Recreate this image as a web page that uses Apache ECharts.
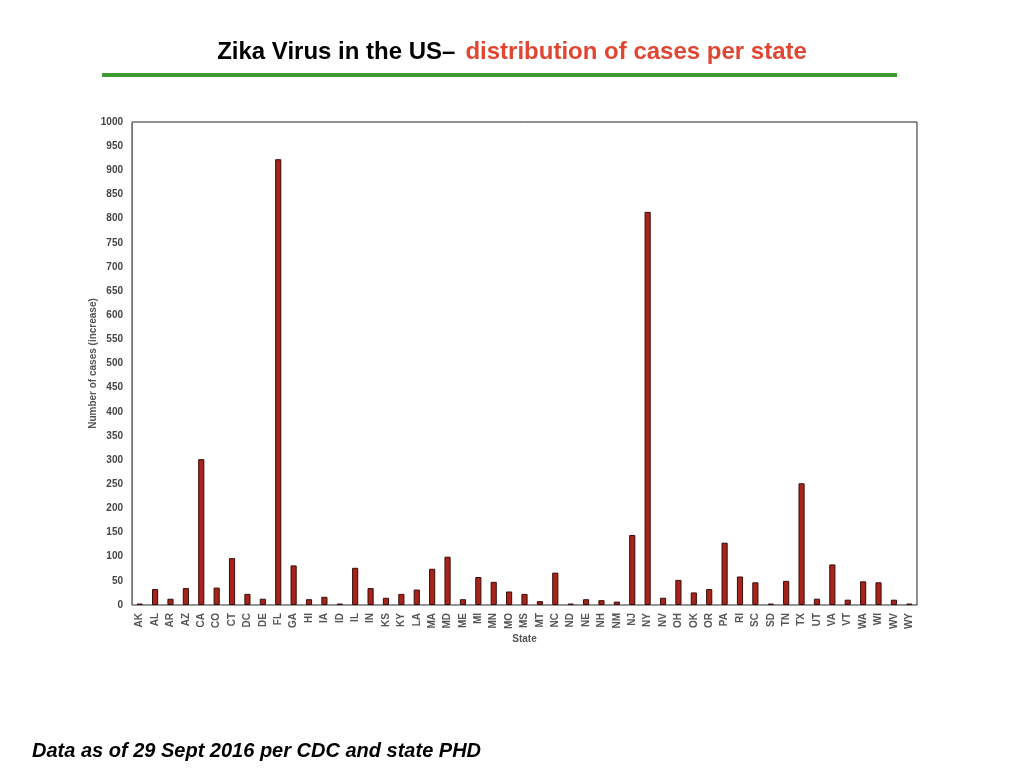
<!DOCTYPE html>
<html lang="en">
<head>
    <meta charset="UTF-8">
    <title>Zika Virus in the US</title>
    <script src="https://cdn.jsdelivr.net/npm/echarts@6/dist/echarts.min.js"></script>
    <style>
        html, body { margin: 0; padding: 0; background: #fff; }
        #chart { width: 1024px; height: 768px; }
    </style>
</head>
<body>
<div id="chart"></div>
<script>
    var states = ['AK','AL','AR','AZ','CA','CO','CT','DC','DE','FL','GA','HI','IA','ID','IL','IN','KS','KY','LA','MA',
        'MD','ME','MI','MN','MO','MS','MT','NC','ND','NE','NH','NM','NJ','NY','NV','OH','OK','OR','PA','RI',
        'SC','SD','TN','TX','UT','VA','VT','WA','WI','WV','WY'];
    var cases = [3,33,13,35,302,36,97,23,13,923,82,12,17,3,77,35,15,23,32,75,
        100,12,58,48,28,23,8,67,3,12,10,7,145,814,15,52,26,33,129,59,
        47,3,50,252,13,84,11,49,47,11,3];

    var chart = echarts.init(document.getElementById('chart'));
    var font = '"Liberation Sans", Arial, sans-serif';

    chart.setOption({
        animation: false,
        title: {
            left: 'center',
            top: 35,
            text: '{a|Zika Virus in the US–}  {b|distribution of cases per state}',
            textStyle: {
                rich: {
                    a: { fontFamily: font, fontSize: 24, fontWeight: 'bold', color: '#000' },
                    b: { fontFamily: font, fontSize: 24, fontWeight: 'bold', color: '#e04632' }
                }
            }
        },
        graphic: [
            {
                type: 'rect',
                shape: { x: 102, y: 73, width: 795, height: 4 },
                style: { fill: '#3f9a33' }
            },
            {
                type: 'text',
                left: 32,
                top: 741,
                style: {
                    text: 'Data as of 29 Sept 2016 per CDC and state PHD',
                    fontFamily: font, fontSize: 20, fontWeight: 'bold', fontStyle: 'italic', fill: '#000'
                }
            }
        ],
        grid: {
            left: 132, right: 107, top: 122, bottom: 163,
            show: true, borderColor: '#222', borderWidth: 1
        },
        xAxis: {
            type: 'category',
            data: states,
            name: 'State',
            nameLocation: 'middle',
            nameGap: 29,
            nameMoveOverlap: false,
            nameTextStyle: { fontFamily: font, fontSize: 10, fontWeight: 'bold', color: '#555' },
            axisLine: { lineStyle: { color: '#999' } },
            axisTick: { show: false },
            axisLabel: {
                rotate: 90, interval: 0, margin: 8,
                fontFamily: font, fontSize: 10, fontWeight: 'bold', color: '#555'
            }
        },
        yAxis: {
            type: 'value',
            min: 0, max: 1000, interval: 50,
            name: 'Number of cases (increase)',
            nameLocation: 'middle',
            nameGap: 34,
            nameMoveOverlap: false,
            nameTextStyle: { fontFamily: font, fontSize: 10, fontWeight: 'bold', color: '#555' },
            axisLine: { show: true, lineStyle: { color: '#777' } },
            axisTick: { show: false },
            splitLine: { show: false },
            axisLabel: {
                margin: 9, fontFamily: font, fontSize: 10, fontWeight: 'bold', color: '#444',
                formatter: function (v) { return String(v); }
            }
        },
        series: [{
            type: 'bar',
            data: cases,
            barWidth: '40%',
            itemStyle: { color: '#a6241b', borderColor: '#3a0c08', borderWidth: 1 }
        }]
    });
</script>
</body>
</html>
